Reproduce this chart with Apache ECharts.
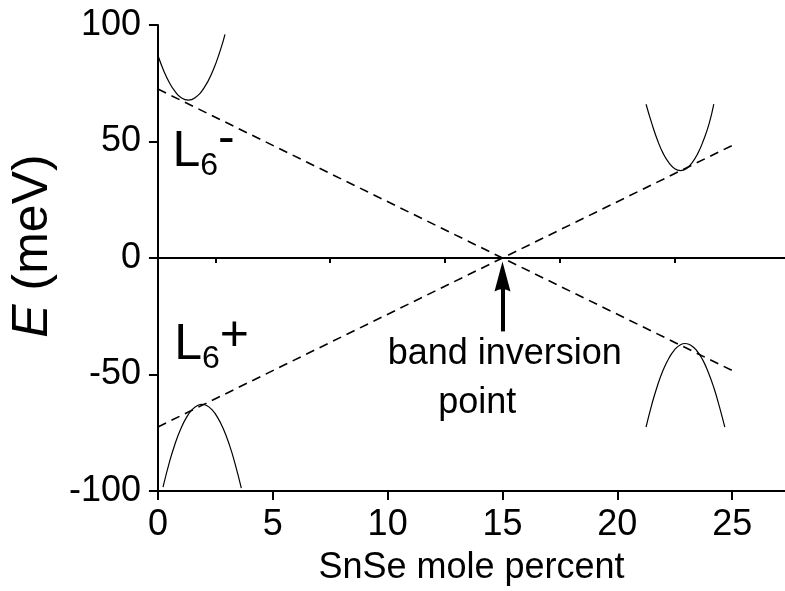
<!DOCTYPE html>
<html>
<head>
<meta charset="utf-8">
<script src="https://cdn.jsdelivr.net/npm/echarts@6/dist/echarts.min.js"></script>
<style>
html,body{margin:0;padding:0;background:#fff;}
#chart{width:785px;height:591px;}
</style>
</head>
<body>
<div id="chart"></div>
<script>
// ---- axes ----
const xTicks = [0, 5, 10, 15, 20, 25];
const xMinorTicks = [2.5, 7.5, 12.5, 17.5, 22.5];
const yTicks = [-100, -50, 0, 50, 100];
const xRange = [0, 27.3];
const yRange = [-100, 100];

// ---- dashed band-edge lines (x: SnSe %, y: meV) ----
const bandRising = [[0, -72.5], [15, 0], [25, 48.3]];
const bandFalling = [[0, 72.5], [15, 0], [25, -48.3]];
const zeroLine = [[0, 0], [27.3, 0]];

// ---- dispersion curves ----
const curveTopLeft = [[-0.28, 96.0], [0, 87.0], [0.25, 80.4], [0.5, 75.2], [0.75, 71.4], [1.0, 68.9], [1.32, 67.8], [1.6, 68.7], [2.0, 72.9], [2.4, 80.6], [2.7, 88.7], [2.92, 96.0]];
const curveBottomLeft = [[0.22, -98.3], [0.5, -87.6], [0.75, -79.6], [1.0, -73.2], [1.25, -68.3], [1.5, -65.0], [1.75, -63.2], [1.92, -62.8], [2.1, -63.2], [2.35, -65.1], [2.6, -68.5], [2.85, -73.4], [3.1, -79.9], [3.35, -88.0], [3.63, -98.8]];
const curveTopRight = [[21.25, 66.0], [21.5, 57.8], [21.75, 50.5], [22.0, 44.8], [22.25, 40.8], [22.5, 38.3], [22.75, 37.5], [23.0, 38.3], [23.25, 40.8], [23.5, 44.8], [23.75, 50.5], [24.0, 57.8], [24.2, 66.0]];
const curveBottomRight = [[21.25, -72.6], [21.5, -62.9], [21.75, -54.7], [22.0, -48.0], [22.25, -42.9], [22.5, -39.3], [22.75, -37.2], [22.96, -36.7], [23.2, -37.4], [23.45, -39.7], [23.7, -43.4], [23.95, -48.8], [24.2, -55.6], [24.45, -64.0], [24.68, -72.6]];

// ---- annotation anchors (data coordinates) ----
const arrowTail = [15, -31.5];
const arrowHead = [15, -7.9];
const labelLminus = [0.63, 32.7];
const labelLplus = [0.71, -50.4];
const labelBand = [15.1, -41.4];
const labelPoint = [13.9, -62.1];

const FONT = "'Liberation Sans', Arial, Helvetica, sans-serif";
const ARROW = 'path://M8 0 L16 30 Q8 25 0 30 Z';

const chart = echarts.init(document.getElementById('chart'), null, {renderer: 'canvas'});

function curve(data, clip) {
  return {
    type: 'line', data: data, showSymbol: false, smooth: true, clip: clip,
    lineStyle: {color: '#000', width: 1.2}, silent: true, z: 3
  };
}
function dashed(data) {
  return {
    type: 'line', data: data, showSymbol: false, smooth: false,
    lineStyle: {color: '#000', width: 1.6, type: [9, 6]}, silent: true, z: 2
  };
}
function tok(size, padBottom) {
  return {fontFamily: FONT, fontSize: size, lineHeight: size, padding: [0, 0, padBottom, 0],
    verticalAlign: 'bottom', color: '#000', textBorderWidth: 0, textBorderColor: 'transparent'};
}
function textLabel(pos, formatter, rich, align, vAlign, fontSize) {
  return {
    type: 'scatter', data: [pos], symbolSize: 0, silent: true, z: 5,
    itemStyle: {color: '#000', opacity: 0},
    label: {
      show: true, position: [0, 0], align: align, verticalAlign: vAlign,
      formatter: formatter, color: '#000', fontFamily: FONT, fontSize: fontSize,
      textBorderWidth: 0, textBorderColor: 'transparent', opacity: 1,
      rich: rich || {}
    }
  };
}

const option = {
  animation: false,
  backgroundColor: '#fff',
  grid: {left: 157, right: 0, top: 25, bottom: 99.3, containLabel: false},
  xAxis: [{
    type: 'value', min: xRange[0], max: xRange[1], position: 'bottom',
    name: 'SnSe mole percent', nameLocation: 'middle', nameGap: 59,
    nameTextStyle: {fontFamily: FONT, fontSize: 36, color: '#000'},
    axisLine: {show: true, onZero: false, lineStyle: {color: '#000', width: 2}},
    axisTick: {show: true, inside: false, length: 9, customValues: xTicks, lineStyle: {color: '#000', width: 2}},
    axisLabel: {show: true, customValues: xTicks, margin: 16, fontFamily: FONT, fontSize: 36, color: '#000'},
    splitLine: {show: false}
  }, {
    type: 'value', min: xRange[0], max: xRange[1], position: 'bottom', offset: 0,
    axisLine: {show: false},
    axisTick: {show: true, inside: false, length: 5, customValues: xMinorTicks, lineStyle: {color: '#000', width: 2}},
    axisLabel: {show: false},
    splitLine: {show: false}
  }],
  yAxis: {
    type: 'value', min: yRange[0], max: yRange[1], interval: 50,
    name: '{i|E} (meV)', nameLocation: 'middle', nameGap: 99, nameRotate: 90,
    nameTextStyle: {
      fontFamily: FONT, fontSize: 50, color: '#000', padding: [0, 0, 0, 24],
      rich: {i: {fontFamily: FONT, fontSize: 50, fontStyle: 'italic', color: '#000'}}
    },
    axisLine: {show: true, onZero: false, lineStyle: {color: '#000', width: 2}},
    axisTick: {show: true, inside: false, length: 9, customValues: yTicks, lineStyle: {color: '#000', width: 2}},
    axisLabel: {show: true, customValues: yTicks, margin: 17, fontFamily: FONT, fontSize: 36, color: '#000'},
    splitLine: {show: false}
  },
  series: [
    {
      type: 'line', data: zeroLine, showSymbol: false, silent: true, z: 2,
      lineStyle: {color: '#000', width: 2},
      markLine: {
        silent: true, animation: false,
        symbol: ['none', ARROW],
        symbolSize: [16, 30],
        label: {show: false},
        emphasis: {disabled: true},
        lineStyle: {color: '#000', width: 4, type: 'solid'},
        data: [[
          {coord: arrowTail, symbol: 'none'},
          {coord: arrowHead, symbol: ARROW, symbolSize: [16, 30], itemStyle: {color: '#000'}}
        ]]
      }
    },
    dashed(bandRising),
    dashed(bandFalling),
    curve(curveTopLeft, false),
    curve(curveBottomLeft, true),
    curve(curveTopRight, true),
    curve(curveBottomRight, true),
    textLabel(labelLminus, '{a|L}{b|6}{c|-}', {a: tok(50, 5), b: tok(32, 0), c: tok(50, 18)}, 'left', 'bottom', 50),
    textLabel(labelLplus, '{a|L}{b|6}{c|+}', {a: tok(50, 5), b: tok(32, 0), c: tok(50, 14)}, 'left', 'bottom', 50),
    textLabel(labelBand, 'band inversion', null, 'center', 'middle', 36),
    textLabel(labelPoint, 'point', null, 'center', 'middle', 36)
  ]
};
chart.setOption(option);
</script>
</body>
</html>
